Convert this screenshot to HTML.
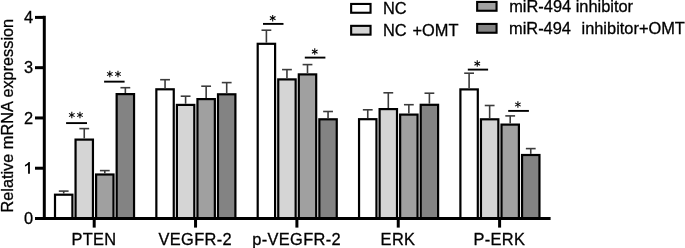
<!DOCTYPE html>
<html><head><meta charset="utf-8"><style>
html,body{margin:0;padding:0;background:#fff;width:685px;height:248px;overflow:hidden;font-family:"Liberation Sans", sans-serif;}
text{stroke:#000;stroke-width:0.3px;}
</style></head><body>
<svg width="685" height="248" viewBox="0 0 685 248" style="position:absolute;left:0;top:0;will-change:transform"><rect x="55.00" y="194.70" width="17.40" height="23.80" fill="#ffffff" stroke="#000" stroke-width="2.2"/><line x1="63.70" y1="191.10" x2="63.70" y2="193.60" stroke="#3c3c3c" stroke-width="1.6"/><line x1="58.80" y1="191.10" x2="68.60" y2="191.10" stroke="#3c3c3c" stroke-width="1.6"/><rect x="75.55" y="139.60" width="17.40" height="78.90" fill="#d5d5d5" stroke="#000" stroke-width="2.2"/><line x1="84.25" y1="128.60" x2="84.25" y2="138.50" stroke="#3c3c3c" stroke-width="1.6"/><line x1="79.35" y1="128.60" x2="89.15" y2="128.60" stroke="#3c3c3c" stroke-width="1.6"/><rect x="96.10" y="174.50" width="17.40" height="44.00" fill="#a0a0a0" stroke="#000" stroke-width="2.2"/><line x1="104.80" y1="170.60" x2="104.80" y2="173.40" stroke="#3c3c3c" stroke-width="1.6"/><line x1="99.90" y1="170.60" x2="109.70" y2="170.60" stroke="#3c3c3c" stroke-width="1.6"/><rect x="116.65" y="94.10" width="17.40" height="124.40" fill="#838383" stroke="#000" stroke-width="2.2"/><line x1="125.35" y1="87.70" x2="125.35" y2="93.00" stroke="#3c3c3c" stroke-width="1.6"/><line x1="120.45" y1="87.70" x2="130.25" y2="87.70" stroke="#3c3c3c" stroke-width="1.6"/><rect x="156.35" y="89.30" width="17.40" height="129.20" fill="#ffffff" stroke="#000" stroke-width="2.2"/><line x1="165.05" y1="79.70" x2="165.05" y2="88.20" stroke="#3c3c3c" stroke-width="1.6"/><line x1="160.15" y1="79.70" x2="169.95" y2="79.70" stroke="#3c3c3c" stroke-width="1.6"/><rect x="176.90" y="104.90" width="17.40" height="113.60" fill="#d5d5d5" stroke="#000" stroke-width="2.2"/><line x1="185.60" y1="96.20" x2="185.60" y2="103.80" stroke="#3c3c3c" stroke-width="1.6"/><line x1="180.70" y1="96.20" x2="190.50" y2="96.20" stroke="#3c3c3c" stroke-width="1.6"/><rect x="197.45" y="99.10" width="17.40" height="119.40" fill="#a0a0a0" stroke="#000" stroke-width="2.2"/><line x1="206.15" y1="86.20" x2="206.15" y2="98.00" stroke="#3c3c3c" stroke-width="1.6"/><line x1="201.25" y1="86.20" x2="211.05" y2="86.20" stroke="#3c3c3c" stroke-width="1.6"/><rect x="218.00" y="94.30" width="17.40" height="124.20" fill="#838383" stroke="#000" stroke-width="2.2"/><line x1="226.70" y1="82.60" x2="226.70" y2="93.20" stroke="#3c3c3c" stroke-width="1.6"/><line x1="221.80" y1="82.60" x2="231.60" y2="82.60" stroke="#3c3c3c" stroke-width="1.6"/><rect x="257.70" y="43.80" width="17.40" height="174.70" fill="#ffffff" stroke="#000" stroke-width="2.2"/><line x1="266.40" y1="30.20" x2="266.40" y2="42.70" stroke="#3c3c3c" stroke-width="1.6"/><line x1="261.50" y1="30.20" x2="271.30" y2="30.20" stroke="#3c3c3c" stroke-width="1.6"/><rect x="278.25" y="79.40" width="17.40" height="139.10" fill="#d5d5d5" stroke="#000" stroke-width="2.2"/><line x1="286.95" y1="69.60" x2="286.95" y2="78.30" stroke="#3c3c3c" stroke-width="1.6"/><line x1="282.05" y1="69.60" x2="291.85" y2="69.60" stroke="#3c3c3c" stroke-width="1.6"/><rect x="298.80" y="74.40" width="17.40" height="144.10" fill="#a0a0a0" stroke="#000" stroke-width="2.2"/><line x1="307.50" y1="64.60" x2="307.50" y2="73.30" stroke="#3c3c3c" stroke-width="1.6"/><line x1="302.60" y1="64.60" x2="312.40" y2="64.60" stroke="#3c3c3c" stroke-width="1.6"/><rect x="319.35" y="119.30" width="17.40" height="99.20" fill="#838383" stroke="#000" stroke-width="2.2"/><line x1="328.05" y1="111.50" x2="328.05" y2="118.20" stroke="#3c3c3c" stroke-width="1.6"/><line x1="323.15" y1="111.50" x2="332.95" y2="111.50" stroke="#3c3c3c" stroke-width="1.6"/><rect x="359.05" y="119.20" width="17.40" height="99.30" fill="#ffffff" stroke="#000" stroke-width="2.2"/><line x1="367.75" y1="109.80" x2="367.75" y2="118.10" stroke="#3c3c3c" stroke-width="1.6"/><line x1="362.85" y1="109.80" x2="372.65" y2="109.80" stroke="#3c3c3c" stroke-width="1.6"/><rect x="379.60" y="109.10" width="17.40" height="109.40" fill="#d5d5d5" stroke="#000" stroke-width="2.2"/><line x1="388.30" y1="92.80" x2="388.30" y2="108.00" stroke="#3c3c3c" stroke-width="1.6"/><line x1="383.40" y1="92.80" x2="393.20" y2="92.80" stroke="#3c3c3c" stroke-width="1.6"/><rect x="400.15" y="114.60" width="17.40" height="103.90" fill="#a0a0a0" stroke="#000" stroke-width="2.2"/><line x1="408.85" y1="104.70" x2="408.85" y2="113.50" stroke="#3c3c3c" stroke-width="1.6"/><line x1="403.95" y1="104.70" x2="413.75" y2="104.70" stroke="#3c3c3c" stroke-width="1.6"/><rect x="420.70" y="104.80" width="17.40" height="113.70" fill="#838383" stroke="#000" stroke-width="2.2"/><line x1="429.40" y1="93.20" x2="429.40" y2="103.70" stroke="#3c3c3c" stroke-width="1.6"/><line x1="424.50" y1="93.20" x2="434.30" y2="93.20" stroke="#3c3c3c" stroke-width="1.6"/><rect x="460.40" y="89.40" width="17.40" height="129.10" fill="#ffffff" stroke="#000" stroke-width="2.2"/><line x1="469.10" y1="73.20" x2="469.10" y2="88.30" stroke="#3c3c3c" stroke-width="1.6"/><line x1="464.20" y1="73.20" x2="474.00" y2="73.20" stroke="#3c3c3c" stroke-width="1.6"/><rect x="480.95" y="119.30" width="17.40" height="99.20" fill="#d5d5d5" stroke="#000" stroke-width="2.2"/><line x1="489.65" y1="105.50" x2="489.65" y2="118.20" stroke="#3c3c3c" stroke-width="1.6"/><line x1="484.75" y1="105.50" x2="494.55" y2="105.50" stroke="#3c3c3c" stroke-width="1.6"/><rect x="501.50" y="124.60" width="17.40" height="93.90" fill="#a0a0a0" stroke="#000" stroke-width="2.2"/><line x1="510.20" y1="115.90" x2="510.20" y2="123.50" stroke="#3c3c3c" stroke-width="1.6"/><line x1="505.30" y1="115.90" x2="515.10" y2="115.90" stroke="#3c3c3c" stroke-width="1.6"/><rect x="522.05" y="155.00" width="17.40" height="63.50" fill="#838383" stroke="#000" stroke-width="2.2"/><line x1="530.75" y1="148.60" x2="530.75" y2="153.90" stroke="#3c3c3c" stroke-width="1.6"/><line x1="525.85" y1="148.60" x2="535.65" y2="148.60" stroke="#3c3c3c" stroke-width="1.6"/><line x1="44.30" y1="15.80" x2="44.30" y2="220.00" stroke="#000" stroke-width="3.0"/><line x1="35" y1="218.50" x2="550.6" y2="218.50" stroke="#000" stroke-width="3.0"/><line x1="35" y1="218.50" x2="44.30" y2="218.50" stroke="#000" stroke-width="3.0"/><text x="33.1" y="224.10" text-anchor="end" font-family='"Liberation Sans", sans-serif' font-size="16.4">0</text><line x1="35" y1="168.22" x2="44.30" y2="168.22" stroke="#000" stroke-width="3.0"/><path d="M29.89 173.82 L28.08 173.82 L28.08 164.78 Q27.52 165.26 26.64 165.74 Q25.76 166.22 24.96 166.46 L24.96 164.98 Q26.32 164.42 27.28 163.61 Q28.24 162.80 28.64 162.04 L29.89 162.04Z" fill="#000"/><line x1="35" y1="117.95" x2="44.30" y2="117.95" stroke="#000" stroke-width="3.0"/><text x="33.1" y="123.55" text-anchor="end" font-family='"Liberation Sans", sans-serif' font-size="16.4">2</text><line x1="35" y1="67.68" x2="44.30" y2="67.68" stroke="#000" stroke-width="3.0"/><text x="33.1" y="73.28" text-anchor="end" font-family='"Liberation Sans", sans-serif' font-size="16.4">3</text><line x1="35" y1="17.40" x2="44.30" y2="17.40" stroke="#000" stroke-width="3.0"/><text x="33.1" y="23.00" text-anchor="end" font-family='"Liberation Sans", sans-serif' font-size="16.4">4</text><line x1="94.20" y1="218.50" x2="94.20" y2="227.6" stroke="#000" stroke-width="3.0"/><text x="93.95" y="244.6" letter-spacing="0.35" text-anchor="middle" font-family='"Liberation Sans", sans-serif' font-size="16.4">PTEN</text><line x1="195.55" y1="218.50" x2="195.55" y2="227.6" stroke="#000" stroke-width="3.0"/><text x="195.30" y="244.6" letter-spacing="0.35" text-anchor="middle" font-family='"Liberation Sans", sans-serif' font-size="16.4">VEGFR-2</text><line x1="296.90" y1="218.50" x2="296.90" y2="227.6" stroke="#000" stroke-width="3.0"/><text x="296.65" y="244.6" letter-spacing="0.35" text-anchor="middle" font-family='"Liberation Sans", sans-serif' font-size="16.4">p-VEGFR-2</text><line x1="398.25" y1="218.50" x2="398.25" y2="227.6" stroke="#000" stroke-width="3.0"/><text x="398.00" y="244.6" letter-spacing="0.35" text-anchor="middle" font-family='"Liberation Sans", sans-serif' font-size="16.4">ERK</text><line x1="499.60" y1="218.50" x2="499.60" y2="227.6" stroke="#000" stroke-width="3.0"/><text x="499.35" y="244.6" letter-spacing="0.35" text-anchor="middle" font-family='"Liberation Sans", sans-serif' font-size="16.4">P-ERK</text><text transform="translate(12.5,115.7) rotate(-90)" text-anchor="middle" font-family='"Liberation Sans", sans-serif' font-size="16.3">Relative mRNA expression</text><line x1="66.1" y1="123.1" x2="87.0" y2="123.1" stroke="#000" stroke-width="1.9"/><line x1="71.82" y1="111.75" x2="71.82" y2="118.25" stroke="#000" stroke-width="1.05"/><line x1="69.01" y1="113.38" x2="74.63" y2="116.62" stroke="#000" stroke-width="1.05"/><line x1="74.63" y1="113.38" x2="69.01" y2="116.62" stroke="#000" stroke-width="1.05"/><line x1="79.98" y1="111.75" x2="79.98" y2="118.25" stroke="#000" stroke-width="1.05"/><line x1="77.17" y1="113.38" x2="82.79" y2="116.62" stroke="#000" stroke-width="1.05"/><line x1="82.79" y1="113.38" x2="77.17" y2="116.62" stroke="#000" stroke-width="1.05"/><line x1="104.1" y1="81.65" x2="124.6" y2="81.65" stroke="#000" stroke-width="1.9"/><line x1="109.82" y1="70.75" x2="109.82" y2="77.25" stroke="#000" stroke-width="1.05"/><line x1="107.01" y1="72.38" x2="112.63" y2="75.62" stroke="#000" stroke-width="1.05"/><line x1="112.63" y1="72.38" x2="107.01" y2="75.62" stroke="#000" stroke-width="1.05"/><line x1="117.98" y1="70.75" x2="117.98" y2="77.25" stroke="#000" stroke-width="1.05"/><line x1="115.17" y1="72.38" x2="120.79" y2="75.62" stroke="#000" stroke-width="1.05"/><line x1="120.79" y1="72.38" x2="115.17" y2="75.62" stroke="#000" stroke-width="1.05"/><line x1="263.0" y1="23.9" x2="283.5" y2="23.9" stroke="#000" stroke-width="1.9"/><line x1="272.70" y1="14.90" x2="272.70" y2="21.40" stroke="#000" stroke-width="1.05"/><line x1="269.89" y1="16.52" x2="275.51" y2="19.77" stroke="#000" stroke-width="1.05"/><line x1="275.51" y1="16.52" x2="269.89" y2="19.77" stroke="#000" stroke-width="1.05"/><line x1="304.8" y1="57.6" x2="325.4" y2="57.6" stroke="#000" stroke-width="1.9"/><line x1="314.75" y1="48.35" x2="314.75" y2="54.85" stroke="#000" stroke-width="1.05"/><line x1="311.94" y1="49.98" x2="317.56" y2="53.23" stroke="#000" stroke-width="1.05"/><line x1="317.56" y1="49.98" x2="311.94" y2="53.23" stroke="#000" stroke-width="1.05"/><line x1="467.8" y1="69.6" x2="488.1" y2="69.6" stroke="#000" stroke-width="1.9"/><line x1="477.25" y1="60.35" x2="477.25" y2="66.85" stroke="#000" stroke-width="1.05"/><line x1="474.44" y1="61.98" x2="480.06" y2="65.22" stroke="#000" stroke-width="1.05"/><line x1="480.06" y1="61.98" x2="474.44" y2="65.22" stroke="#000" stroke-width="1.05"/><line x1="508.2" y1="110.9" x2="528.9" y2="110.9" stroke="#000" stroke-width="1.9"/><line x1="517.90" y1="101.30" x2="517.90" y2="107.80" stroke="#000" stroke-width="1.05"/><line x1="515.09" y1="102.92" x2="520.71" y2="106.17" stroke="#000" stroke-width="1.05"/><line x1="520.71" y1="102.92" x2="515.09" y2="106.17" stroke="#000" stroke-width="1.05"/><rect x="351.15" y="3.95" width="19.40" height="8.80" fill="#ffffff" stroke="#000" stroke-width="2.1"/><text x="383.00" y="14.25" font-family='"Liberation Sans", sans-serif' font-size="16.4" xml:space="preserve">NC</text><rect x="351.15" y="25.85" width="19.40" height="8.80" fill="#d5d5d5" stroke="#000" stroke-width="2.1"/><text x="383.00" y="36.10" font-family='"Liberation Sans", sans-serif' font-size="16.4" xml:space="preserve">NC&#160;<tspan dx="1.2">+OMT</tspan></text><rect x="477.15" y="1.95" width="19.40" height="8.80" fill="#a0a0a0" stroke="#000" stroke-width="2.1"/><text x="509.20" y="12.40" font-family='"Liberation Sans", sans-serif' font-size="16.4" xml:space="preserve">miR-494 inhibitor</text><rect x="477.15" y="23.95" width="19.40" height="8.80" fill="#838383" stroke="#000" stroke-width="2.1"/><text x="509.00" y="34.45" font-family='"Liberation Sans", sans-serif' font-size="16.4" xml:space="preserve">miR-494</text><text x="581.5" y="34.45" font-family='"Liberation Sans", sans-serif' font-size="16.4">inhibitor+OMT</text></svg>
</body></html>
